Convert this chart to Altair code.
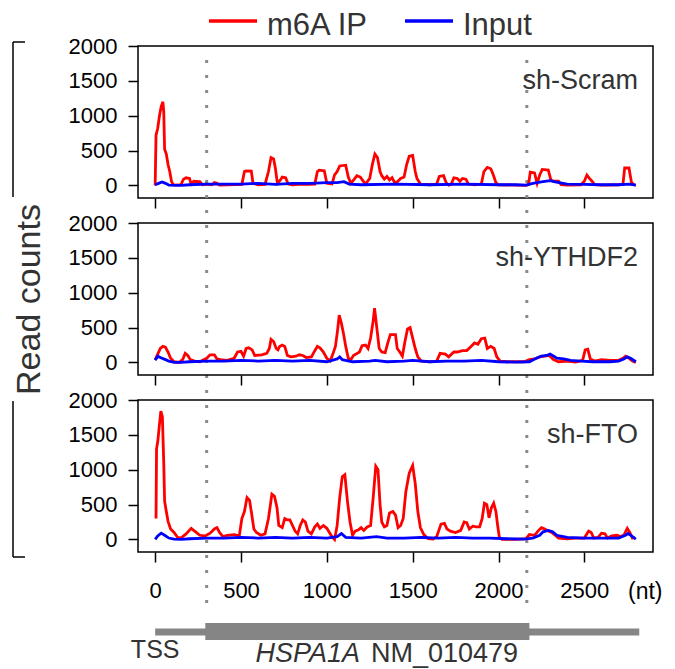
import altair as alt
import pandas as pd

SERIES = ["m6A IP", "Input"]
COLORS = ["#ff0000", "#0000ff"]
PANELS = ["sh-Scram", "sh-YTHDF2", "sh-FTO"]
X_TICKS = [0, 500, 1000, 1500, 2000, 2500]
Y_TICKS = [0, 500, 1000, 1500, 2000]
CDS_BOUNDS = [300, 2165]
UTR_SPAN = [0, 2820]
CDS_SPAN = [292, 2180]

# (nt, read count) pairs
scram_ip = [
    (0, 0), (5, 720), (15, 820), (25, 1000), (35, 1130), (45, 1200), (50, 1060), (55, 520),
    (65, 450), (75, 300), (85, 200), (95, 60), (105, 10), (120, 5), (150, 10), (165, 90),
    (180, 110), (200, 100), (210, 20), (225, 60), (260, 55), (275, 10), (300, 20), (330, 10),
    (345, 40), (360, 30), (375, 5), (420, 10), (505, 15), (520, 200), (530, 210), (560, 205),
    (570, 30), (600, 10), (640, 15), (660, 200), (675, 400), (690, 380), (700, 250), (712, 30),
    (730, 80), (740, 120), (760, 110), (775, 20), (800, 10), (850, 20), (900, 15), (930, 20),
    (945, 200), (955, 220), (985, 210), (1000, 30), (1030, 20), (1045, 150), (1060, 200),
    (1075, 280), (1110, 290), (1125, 120), (1140, 30), (1160, 90), (1175, 140), (1195, 120),
    (1210, 70), (1225, 20), (1250, 100), (1265, 300), (1280, 450), (1295, 400), (1310, 200),
    (1320, 140), (1335, 90), (1350, 130), (1365, 80), (1380, 110), (1395, 40), (1410, 50),
    (1430, 100), (1450, 120), (1465, 300), (1480, 420), (1500, 430), (1515, 200), (1525, 100),
    (1545, 20), (1600, 10), (1640, 20), (1655, 130), (1680, 140), (1695, 40), (1710, 5),
    (1725, 20), (1740, 110), (1760, 100), (1775, 60), (1790, 100), (1810, 90), (1825, 20),
    (1860, 10), (1900, 20), (1915, 200), (1935, 260), (1955, 240), (1970, 150), (1985, 40),
    (2000, 10), (2100, 5), (2160, 0), (2175, 10), (2185, 190), (2210, 180), (2225, 30),
    (2240, 150), (2255, 230), (2290, 220), (2305, 80), (2320, 60), (2350, 60), (2365, 10),
    (2400, 5), (2480, 10), (2500, 60), (2515, 150), (2530, 100), (2545, 60), (2560, 10),
    (2600, 5), (2700, 10), (2725, 20), (2735, 250), (2760, 250), (2775, 40), (2790, 10), (2800, 5),
]
scram_input = [
    (0, 10), (20, 30), (40, 50), (60, 30), (80, 5), (150, 0), (200, 10), (300, 20), (400, 20),
    (500, 20), (600, 30), (700, 15), (800, 30), (900, 30), (1000, 40), (1060, 40), (1100, 55),
    (1130, 20), (1200, 10), (1400, 20), (1600, 10), (1800, 20), (2000, 10), (2100, 10),
    (2160, 5), (2200, 30), (2250, 50), (2300, 70), (2330, 50), (2400, 20), (2500, 15),
    (2600, 10), (2700, 10), (2760, 20), (2800, 5),
]
ythdf2_ip = [
    (0, 40), (15, 120), (30, 200), (45, 230), (60, 220), (75, 150), (90, 60), (110, 10), (140, 0),
    (160, 40), (175, 130), (190, 100), (205, 40), (230, 20), (260, 10), (300, 60), (320, 110),
    (345, 110), (360, 50), (380, 40), (420, 30), (460, 60), (480, 150), (500, 160), (515, 90),
    (530, 200), (545, 210), (565, 180), (580, 100), (620, 110), (650, 130), (665, 200),
    (675, 330), (690, 300), (705, 200), (715, 180), (725, 230), (740, 250), (755, 230),
    (770, 100), (790, 80), (820, 90), (840, 110), (860, 100), (880, 70), (910, 80), (930, 170),
    (945, 230), (960, 210), (980, 150), (1000, 60), (1020, 20), (1035, 120), (1050, 230),
    (1062, 450), (1072, 680), (1085, 560), (1098, 400), (1110, 230), (1125, 60), (1140, 40),
    (1155, 100), (1170, 120), (1190, 150), (1205, 240), (1225, 250), (1240, 200), (1255, 350),
    (1270, 600), (1278, 780), (1290, 520), (1305, 200), (1320, 150), (1340, 140), (1355, 280),
    (1370, 400), (1400, 400), (1410, 200), (1425, 150), (1440, 90), (1455, 300), (1470, 480),
    (1485, 500), (1500, 350), (1515, 200), (1530, 80), (1550, 20), (1600, 10), (1640, 20),
    (1660, 130), (1690, 120), (1710, 80), (1740, 150), (1760, 150), (1790, 170), (1815, 170),
    (1840, 230), (1860, 280), (1880, 260), (1900, 340), (1920, 350), (1935, 200), (1955, 230),
    (1975, 200), (1990, 80), (2010, 20), (2050, 10), (2150, 10), (2180, 40), (2210, 50),
    (2240, 80), (2270, 90), (2295, 100), (2320, 40), (2350, 10), (2400, 20), (2450, 5),
    (2490, 30), (2505, 180), (2520, 190), (2535, 50), (2560, 20), (2600, 40), (2650, 30),
    (2700, 30), (2725, 60), (2740, 90), (2760, 60), (2780, 20), (2800, 0),
]
ythdf2_input = [
    (0, 30), (15, 90), (30, 70), (60, 40), (80, 20), (110, 0), (150, 0), (200, 10), (300, 20),
    (400, 20), (500, 30), (600, 20), (700, 30), (800, 20), (900, 30), (1000, 10), (1060, 50),
    (1075, 80), (1090, 40), (1150, 10), (1250, 20), (1280, 30), (1350, 10), (1450, 20),
    (1500, 30), (1600, 10), (1700, 20), (1800, 20), (1900, 30), (2000, 10), (2100, 5),
    (2180, 10), (2220, 60), (2250, 90), (2280, 100), (2300, 120), (2315, 100), (2340, 60),
    (2380, 50), (2420, 30), (2480, 20), (2550, 10), (2650, 10), (2700, 20), (2730, 50),
    (2750, 80), (2770, 60), (2800, 10),
]
fto_ip = [
    (5, 300), (8, 1300), (15, 1400), (25, 1650), (33, 1840), (42, 1760), (50, 1100), (55, 550),
    (65, 400), (75, 260), (90, 150), (110, 100), (130, 30), (150, 20), (180, 80), (210, 160),
    (230, 120), (260, 60), (290, 50), (320, 90), (345, 150), (360, 170), (375, 100), (395, 40),
    (420, 60), (460, 70), (490, 50), (505, 300), (520, 400), (535, 600), (550, 560), (560, 400),
    (575, 150), (590, 100), (615, 60), (640, 80), (660, 300), (680, 650), (695, 620), (710, 450),
    (720, 200), (740, 170), (755, 300), (770, 280), (785, 280), (800, 200), (815, 120),
    (830, 80), (845, 200), (860, 280), (875, 250), (890, 120), (910, 80), (930, 180),
    (945, 220), (960, 160), (980, 200), (1000, 160), (1015, 100), (1030, 40), (1045, 0),
    (1060, 200), (1075, 600), (1090, 900), (1105, 930), (1120, 550), (1135, 250), (1150, 60),
    (1165, 120), (1185, 140), (1200, 170), (1215, 130), (1235, 180), (1255, 200), (1270, 600),
    (1285, 1050), (1298, 1000), (1310, 500), (1320, 250), (1335, 180), (1350, 200), (1365, 380),
    (1385, 400), (1400, 350), (1415, 170), (1430, 200), (1445, 300), (1460, 680), (1480, 950),
    (1500, 1060), (1515, 800), (1530, 400), (1545, 170), (1565, 70), (1590, 10), (1620, 5),
    (1640, 40), (1665, 220), (1685, 230), (1700, 150), (1720, 120), (1750, 100), (1780, 130),
    (1800, 250), (1815, 240), (1830, 150), (1850, 190), (1870, 180), (1890, 180), (1905, 300),
    (1918, 520), (1932, 500), (1945, 310), (1958, 450), (1972, 520), (1985, 400), (1995, 200),
    (2005, 30), (2020, 0), (2100, 0), (2160, 10), (2180, 70), (2210, 60), (2230, 120),
    (2250, 170), (2270, 150), (2290, 120), (2310, 100), (2330, 60), (2350, 20), (2400, 10),
    (2450, 20), (2500, 20), (2525, 120), (2540, 100), (2555, 20), (2580, 30), (2600, 90),
    (2620, 80), (2635, 20), (2660, 50), (2690, 60), (2710, 40), (2730, 60), (2750, 160),
    (2765, 100), (2780, 20), (2795, 30),
]
fto_input = [
    (0, 0), (15, 50), (35, 90), (55, 60), (80, 20), (110, 5), (150, 0), (200, 10), (300, 20),
    (400, 20), (500, 30), (600, 20), (700, 30), (800, 20), (900, 30), (1000, 20), (1060, 40),
    (1085, 85), (1110, 30), (1200, 20), (1290, 40), (1350, 20), (1450, 20), (1550, 30),
    (1650, 20), (1750, 30), (1850, 20), (1950, 20), (2050, 10), (2150, 5), (2200, 20),
    (2240, 60), (2260, 110), (2290, 130), (2315, 110), (2340, 60), (2400, 30), (2500, 20),
    (2600, 20), (2700, 20), (2740, 60), (2755, 85), (2775, 50), (2800, 5),
]

PANEL_DATA = [(scram_ip, scram_input), (ythdf2_ip, ythdf2_input), (fto_ip, fto_input)]

FONT = "Liberation Sans"
W, H = 515, 152
GRAY = "#858585"
color_scale = alt.Scale(domain=SERIES, range=COLORS)

# legend key placement (pixels, relative to the top panel)
LEG_LINE_X = [71, 267]
LEG_LINE_LEN = 48
LEG_TEXT_GAP = 10


def frame(pairs, name):
    return pd.DataFrame({"nt": [p[0] for p in pairs], "count": [p[1] for p in pairs], "series": name})


def build_panel(i):
    ip, inp = PANEL_DATA[i]
    df = pd.concat([frame(ip, SERIES[0]), frame(inp, SERIES[1])], ignore_index=True)
    x = alt.X("nt:Q", scale=alt.Scale(domain=[-100, 2900], nice=False, zero=False),
              axis=alt.Axis(values=X_TICKS, labels=(i == 2), tickSize=10, labelPadding=18,
                            domain=False, grid=False, title=None, labelFontSize=22,
                            labelColor="black", labelFont=FONT, format="d"))
    y = alt.Y("count:Q", scale=alt.Scale(domain=[-180, 2000], nice=False, zero=False),
              axis=alt.Axis(values=Y_TICKS, tickSize=10, labelPadding=11, domain=False,
                            grid=False, labelFontSize=22, labelColor="black", labelFont=FONT,
                            format="d",
                            title=("Read counts" if i == 1 else None), titleFontSize=34,
                            titleFontWeight="normal", titleFont=FONT, titlePadding=22,
                            titleColor="#333333"))
    layers = []
    if i == 0:
        bounds = pd.DataFrame({"nt": CDS_BOUNDS})
        layers.append(alt.Chart(bounds).mark_rule(
            color="#8a8a8a", strokeWidth=3, strokeDash=[3, 12]).encode(
            x=alt.X("nt:Q"), y=alt.value(14), y2=alt.value(566)))
    for s in SERIES:
        layers.append(alt.Chart(df).transform_filter(alt.datum.series == s).mark_line(
            strokeWidth=2.8).encode(
            x=x, y=y, color=alt.Color("series:N", scale=color_scale, legend=None)))
    if i == 0:
        for k, s in enumerate(SERIES):
            key = pd.DataFrame({"series": [s]})
            layers.append(alt.Chart(key).mark_rule(strokeWidth=3.5).encode(
                x=alt.value(LEG_LINE_X[k]), x2=alt.value(LEG_LINE_X[k] + LEG_LINE_LEN),
                y=alt.value(-25),
                color=alt.Color("series:N", scale=color_scale, legend=None)))
            layers.append(alt.Chart(key).mark_text(
                align="left", baseline="middle", fontSize=31, font=FONT, color="#333333").encode(
                x=alt.value(LEG_LINE_X[k] + LEG_LINE_LEN + LEG_TEXT_GAP), y=alt.value(-20.5),
                text="series:N"))
    lab = pd.DataFrame({"label": [PANELS[i]]})
    layers.append(alt.Chart(lab).mark_text(
        align="right", baseline="middle", fontSize=27, font=FONT, color="#333333").encode(
        text="label:N", x=alt.value(500), y=alt.value(35)))
    if i == 1:
        br = pd.DataFrame({"k": [0]})
        rule = alt.Chart(br).mark_rule(color="black", strokeWidth=1.5)
        layers += [
            rule.encode(x=alt.value(-125), y=alt.value(-181), y2=alt.value(-26)),
            rule.encode(x=alt.value(-125), x2=alt.value(-113), y=alt.value(-181)),
            rule.encode(x=alt.value(-125), y=alt.value(178), y2=alt.value(334)),
            rule.encode(x=alt.value(-125), x2=alt.value(-113), y=alt.value(334)),
        ]
    if i == 2:
        utr = pd.DataFrame({"start": [UTR_SPAN[0]], "end": [UTR_SPAN[1]]})
        cds = pd.DataFrame({"start": [CDS_SPAN[0]], "end": [CDS_SPAN[1]]})
        layers.append(alt.Chart(utr).mark_rule(color=GRAY, strokeWidth=7).encode(
            x="start:Q", x2="end:Q", y=alt.value(232)))
        layers.append(alt.Chart(cds).mark_rect(color=GRAY).encode(
            x="start:Q", x2="end:Q", y=alt.value(223), y2=alt.value(240)))
        tss = pd.DataFrame({"nt": [0], "label": ["TSS"]})
        layers.append(alt.Chart(tss).mark_text(
            align="center", baseline="middle", fontSize=25, font=FONT, color="#333333").encode(
            x="nt:Q", y=alt.value(250), text="label:N"))
        g1 = pd.DataFrame({"label": ["HSPA1A"]})
        g2 = pd.DataFrame({"label": ["NM_010479"]})
        layers.append(alt.Chart(g1).mark_text(
            align="right", baseline="middle", fontSize=27, font=FONT, fontStyle="italic",
            color="#333333").encode(x=alt.value(222), y=alt.value(254), text="label:N"))
        layers.append(alt.Chart(g2).mark_text(
            align="left", baseline="middle", fontSize=27, font=FONT, color="#333333").encode(
            x=alt.value(233), y=alt.value(254), text="label:N"))
        nt = pd.DataFrame({"label": ["(nt)"]})
        layers.append(alt.Chart(nt).mark_text(
            align="left", baseline="middle", fontSize=23, font=FONT, color="black").encode(
            x=alt.value(490), y=alt.value(192), text="label:N"))
    return alt.layer(*layers).properties(width=W, height=H)


chart = alt.vconcat(*[build_panel(i) for i in range(3)], spacing=25, bounds="flush").configure(
    padding={"left": 3, "top": 0, "right": 0, "bottom": 0}).configure_view(
    stroke="black", strokeWidth=1.5).configure_axis(
    tickColor="black", tickWidth=1.5)

chart.save("out.html", embed_options={"renderer": "svg", "actions": False})
